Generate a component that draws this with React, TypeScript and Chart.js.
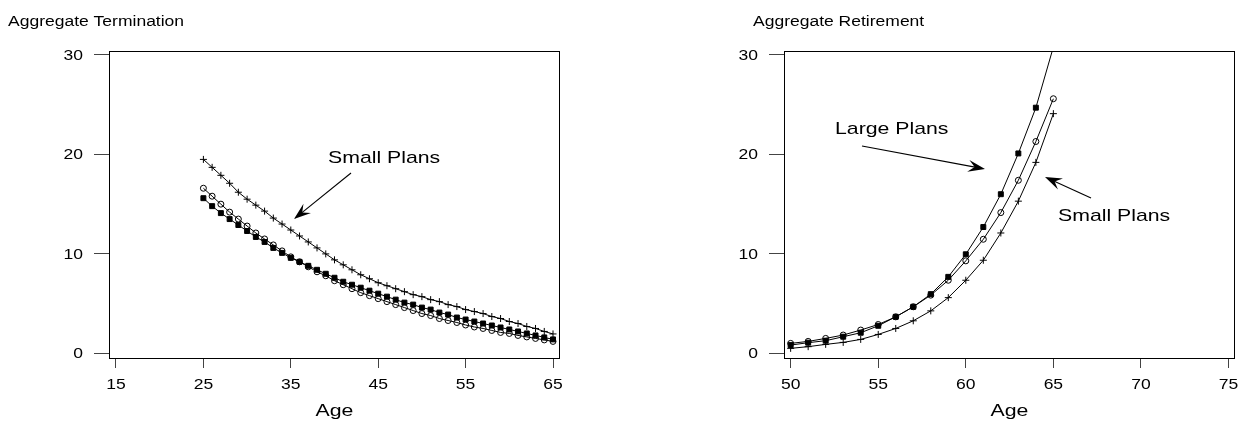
import React, { useEffect, useRef } from "react";
import { Chart, registerables } from "chart.js";

Chart.register(...registerables);

const FONT = '"Liberation Sans", Arial, Helvetica, sans-serif';
const SX = 1.25; // horizontal text stretch seen in the reference

// ---------- Aggregate Termination ----------
const termAges = [25, 26, 27, 28, 29, 30, 31, 32, 33, 34, 35, 36, 37, 38, 39, 40, 41, 42, 43, 44, 45, 46, 47, 48, 49, 50, 51, 52, 53, 54, 55, 56, 57, 58, 59, 60, 61, 62, 63, 64, 65];
const termSmall = [19.5, 18.7, 17.9, 17.1, 16.2, 15.5, 14.9, 14.3, 13.6, 13.0, 12.4, 11.8, 11.2, 10.6, 10.0, 9.4, 8.9, 8.4, 7.9, 7.5, 7.1, 6.8, 6.5, 6.2, 5.9, 5.7, 5.4, 5.2, 4.9, 4.7, 4.4, 4.2, 4.0, 3.7, 3.5, 3.2, 3.0, 2.7, 2.5, 2.2, 1.95];
const termLarge = [15.6, 14.8, 14.1, 13.5, 12.9, 12.3, 11.7, 11.2, 10.6, 10.1, 9.6, 9.2, 8.8, 8.4, 8.0, 7.6, 7.2, 6.9, 6.6, 6.3, 6.0, 5.7, 5.4, 5.1, 4.9, 4.6, 4.4, 4.1, 3.9, 3.6, 3.4, 3.2, 3.0, 2.8, 2.6, 2.4, 2.2, 2.0, 1.8, 1.6, 1.4];
const termAll = [16.6, 15.8, 15.0, 14.2, 13.5, 12.8, 12.1, 11.5, 10.9, 10.3, 9.7, 9.2, 8.7, 8.2, 7.8, 7.3, 6.9, 6.5, 6.1, 5.8, 5.5, 5.2, 4.9, 4.6, 4.3, 4.0, 3.8, 3.5, 3.3, 3.1, 2.85, 2.65, 2.5, 2.3, 2.1, 2.0, 1.8, 1.65, 1.5, 1.35, 1.2];
const termXTicks = [15, 25, 35, 45, 55, 65];

// ---------- Aggregate Retirement ----------
const retAges = [50, 51, 52, 53, 54, 55, 56, 57, 58, 59, 60, 61, 62, 63, 64, 65];
const retLarge = [0.83, 1.07, 1.27, 1.67, 2.07, 2.77, 3.67, 4.68, 5.95, 7.69, 9.96, 12.7, 16.0, 20.1, 24.7, 30.8];
const retAll = [1.0, 1.2, 1.5, 1.84, 2.34, 2.9, 3.67, 4.68, 5.85, 7.35, 9.3, 11.47, 14.15, 17.4, 21.3, 25.6];
const retSmall = [0.5, 0.67, 0.9, 1.1, 1.4, 1.9, 2.5, 3.27, 4.27, 5.6, 7.35, 9.36, 12.1, 15.3, 19.2, 24.1];
const retXTicks = [50, 55, 60, 65, 70, 75];

const yTicks = [0, 10, 20, 30];

function stretchedText(ctx: CanvasRenderingContext2D, text: string, x: number, y: number, size: number, align: CanvasTextAlign) {
  ctx.save();
  ctx.font = `${size}px ${FONT}`;
  ctx.fillStyle = "#000";
  ctx.textBaseline = "alphabetic";
  ctx.textAlign = align;
  ctx.translate(x, y);
  ctx.scale(SX, 1);
  ctx.fillText(text, 0, 0);
  ctx.restore();
}

function arrow(ctx: CanvasRenderingContext2D, x1: number, y1: number, x2: number, y2: number) {
  const dx = x2 - x1;
  const dy = y2 - y1;
  const len = Math.hypot(dx, dy);
  const ux = dx / len;
  const uy = dy / len;
  const nx = -uy;
  const ny = ux;
  const L = 17;
  const W = 6;
  ctx.save();
  ctx.strokeStyle = "#000";
  ctx.fillStyle = "#000";
  ctx.lineWidth = 1.1;
  ctx.beginPath();
  ctx.moveTo(x1, y1);
  ctx.lineTo(x2 - ux * L * 0.6, y2 - uy * L * 0.6);
  ctx.stroke();
  ctx.beginPath();
  ctx.moveTo(x2, y2);
  ctx.lineTo(x2 - ux * L + nx * W, y2 - uy * L + ny * W);
  ctx.lineTo(x2 - ux * L * 0.62, y2 - uy * L * 0.62);
  ctx.lineTo(x2 - ux * L - nx * W, y2 - uy * L - ny * W);
  ctx.closePath();
  ctx.fill();
  ctx.restore();
}

type Note = { text: string; tx: number; ty: number; ax1: number; ay1: number; ax2: number; ay2: number };

type PanelProps = {
  left: number;
  title: string;
  titleX: number;
  ages: number[];
  small: number[];
  large: number[];
  all: number[];
  xTicks: number[];
  xMin: number;
  xMax: number;
  yAxisWidth: number;
  padRight: number;
  notes: Note[];
};

function Panel(p: PanelProps) {
  const ref = useRef<HTMLCanvasElement | null>(null);
  useEffect(() => {
    if (!ref.current) return;
    const pts = (vals: number[]) => p.ages.map((a, i) => ({ x: a, y: vals[i] }));
    const decor = {
      id: "decor",
      afterDraw(chart: any) {
        const ctx: CanvasRenderingContext2D = chart.ctx;
        const a = chart.chartArea;
        const xs = chart.scales.x;
        const ys = chart.scales.y;
        ctx.save();
        ctx.strokeStyle = "#000";
        ctx.lineWidth = 1;
        ctx.strokeRect(a.left + 0.5, a.top + 0.5, a.right - a.left - 1, a.bottom - a.top - 1);
        ctx.restore();
        yTicks.forEach((v) => {
          stretchedText(ctx, String(v), a.left - 26, ys.getPixelForValue(v) + 5, 14, "right");
        });
        p.xTicks.forEach((v) => {
          stretchedText(ctx, String(v), xs.getPixelForValue(v), a.bottom + 30, 14, "center");
        });
        stretchedText(ctx, "Age", (a.left + a.right) / 2, a.bottom + 57, 17, "center");
        stretchedText(ctx, p.title, p.titleX, 26, 14, "left");
        p.notes.forEach((n) => {
          stretchedText(ctx, n.text, n.tx, n.ty, 17, "left");
          arrow(ctx, n.ax1, n.ay1, n.ax2, n.ay2);
        });
      },
    };
    const chart = new Chart(ref.current, {
      type: "line",
      data: {
        datasets: [
          {
            label: "Large Plans",
            data: pts(p.large),
            borderColor: "#000",
            borderWidth: 1,
            pointStyle: "rect",
            pointRadius: 3.5,
            pointBackgroundColor: "#000",
            pointBorderColor: "#000",
            pointBorderWidth: 1,
            tension: 0,
            clip: 0,
          },
          {
            label: "All Plans",
            data: pts(p.all),
            borderColor: "#000",
            borderWidth: 1,
            pointStyle: "circle",
            pointRadius: 3,
            pointBackgroundColor: "rgba(0,0,0,0)",
            pointBorderColor: "#000",
            pointBorderWidth: 1,
            tension: 0,
            clip: 0,
          },
          {
            label: "Small Plans",
            data: pts(p.small),
            borderColor: "#000",
            borderWidth: 1,
            pointStyle: "cross",
            pointRadius: 3.5,
            pointBorderColor: "#000",
            pointBorderWidth: 1,
            tension: 0,
            clip: 0,
          },
        ],
      },
      options: {
        animation: false,
        responsive: false,
        maintainAspectRatio: false,
        events: [],
        layout: { padding: { left: 0, right: p.padRight, top: 51, bottom: 0 } },
        plugins: { legend: { display: false }, tooltip: { enabled: false }, title: { display: false } },
        scales: {
          x: {
            type: "linear",
            min: p.xMin,
            max: p.xMax,
            afterBuildTicks: (s: any) => {
              s.ticks = p.xTicks.map((v) => ({ value: v }));
            },
            afterFit: (s: any) => {
              s.height = 68;
            },
            ticks: { display: false },
            grid: { display: true, drawOnChartArea: false, drawTicks: true, tickLength: 9, tickColor: "#444", tickWidth: 1 },
            border: { display: false },
          },
          y: {
            type: "linear",
            min: -0.57,
            max: 30.4,
            afterBuildTicks: (s: any) => {
              s.ticks = yTicks.map((v) => ({ value: v }));
            },
            afterFit: (s: any) => {
              s.width = p.yAxisWidth;
            },
            ticks: { display: false },
            grid: { display: true, drawOnChartArea: false, drawTicks: true, tickLength: 15, tickColor: "#444", tickWidth: 1 },
            border: { display: false },
          },
        },
      },
      plugins: [decor],
    } as any);
    return () => chart.destroy();
  }, []);
  return (
    <canvas
      ref={ref}
      width={621}
      height={427}
      style={{ position: "absolute", left: p.left, top: 0, width: 621, height: 427 }}
    />
  );
}

export default function App() {
  return (
    <div style={{ position: "fixed", left: 0, top: 0, width: 1242, height: 427, background: "#fff" }}>
      <Panel
        left={0}
        title="Aggregate Termination"
        titleX={8}
        ages={termAges}
        small={termSmall}
        large={termLarge}
        all={termAll}
        xTicks={termXTicks}
        xMin={14.2}
        xMax={65.8}
        yAxisWidth={109}
        padRight={61}
        notes={[{ text: "Small Plans", tx: 328, ty: 163, ax1: 351, ay1: 173, ax2: 294, ay2: 219 }]}
      />
      <Panel
        left={621}
        title="Aggregate Retirement"
        titleX={132}
        ages={retAges}
        small={retSmall}
        large={retLarge}
        all={retAll}
        xTicks={retXTicks}
        xMin={49.62}
        xMax={75.37}
        yAxisWidth={163}
        padRight={7}
        notes={[
          { text: "Large Plans", tx: 214, ty: 134, ax1: 241, ay1: 146, ax2: 364, ay2: 169 },
          { text: "Small Plans", tx: 437, ty: 221, ax1: 470, ay1: 198, ax2: 424, ay2: 177 },
        ]}
      />
    </div>
  );
}
